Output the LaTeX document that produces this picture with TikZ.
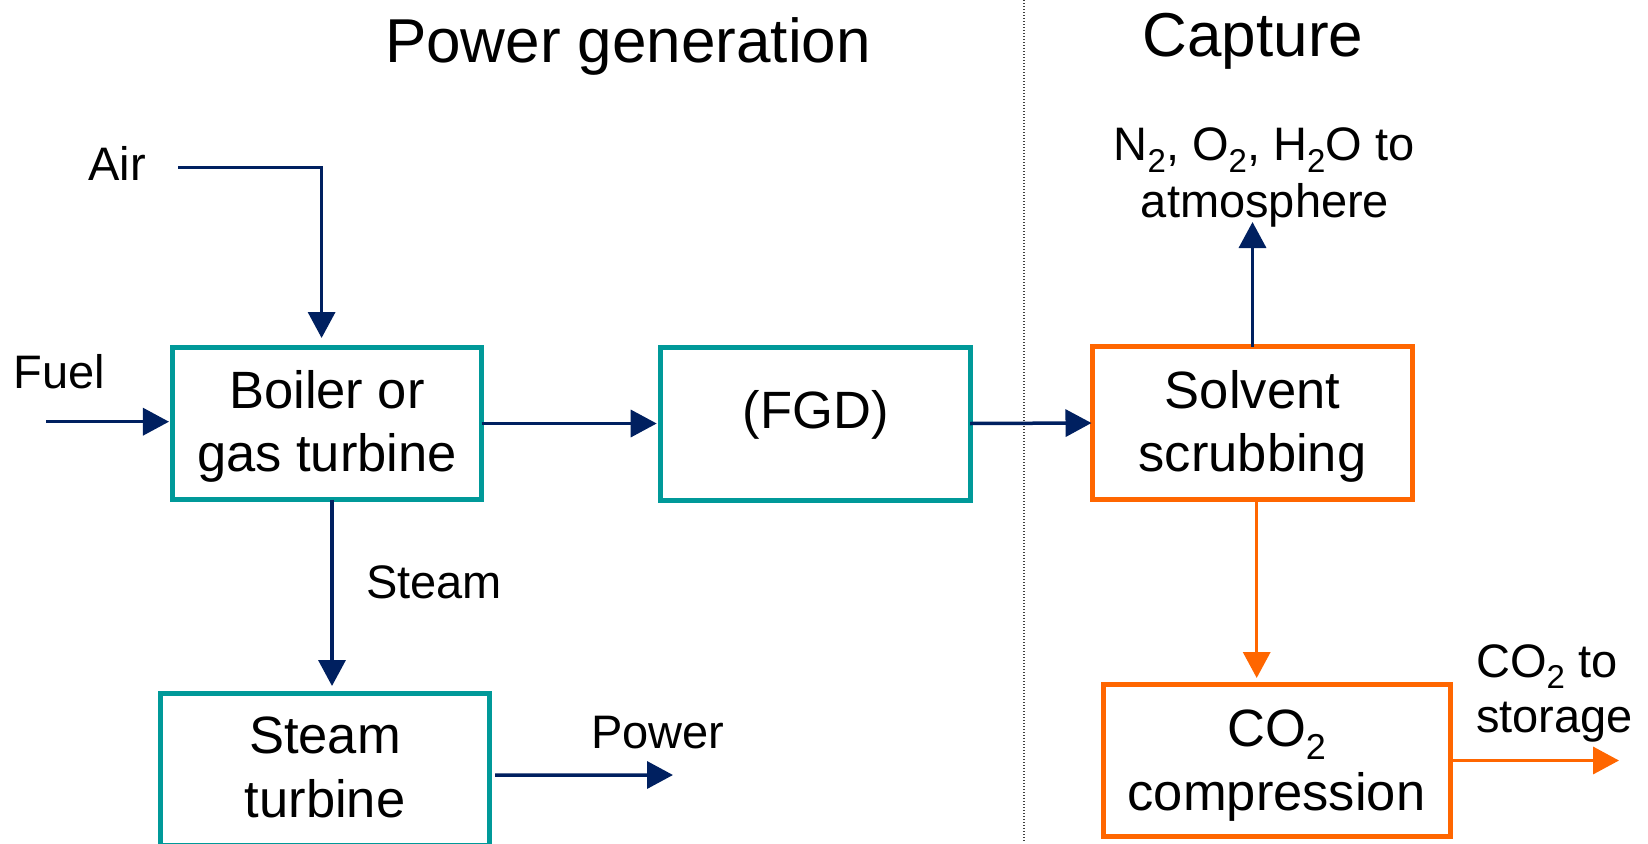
\documentclass[tikz,border=0pt]{standalone}
\usepackage{fontspec}
\setmainfont{Liberation Sans}
\usetikzlibrary{arrows.meta}
\definecolor{boxteal}{RGB}{0,153,153}
\definecolor{flownavy}{RGB}{0,32,96}
\definecolor{caporange}{RGB}{255,102,0}
% lowered, smaller digit for chemical formulae (size given as argument)
\newcommand\subtxt[2][33bp]{\raisebox{-0.25em}{\fontsize{#1}{#1}\selectfont #2}}
\tikzset{
  procbox/.style={draw=boxteal, line width=5bp, inner sep=0pt, outer sep=0pt},
  capbox/.style={draw=caporange, line width=5bp, inner sep=0pt, outer sep=0pt},
  boxtext/.style={font=\fontsize{52.5bp}{63bp}\selectfont, inner sep=0pt, anchor=base},
  lbl/.style={font=\fontsize{47bp}{56bp}\selectfont, inner sep=0pt, anchor=base},
  headtxt/.style={font=\fontsize{62bp}{74bp}\selectfont, inner sep=0pt, anchor=base},
  flow/.style={draw=flownavy, line width=3.5bp, -{Triangle[length=26bp,width=27bp]}},
  co2flow/.style={draw=caporange, line width=3.5bp, -{Triangle[length=26bp,width=27bp]}},
  divider/.style={draw=black!75, line width=1.4bp, dash pattern=on 1.4bp off 1.6bp}
}
\begin{document}
\begin{tikzpicture}[x=1bp,y=-1bp]
  \fill[white] (0,0) rectangle (1648,843);
  \useasboundingbox (0,0) rectangle (1648,843);

  % section headings and divider
  \node[headtxt] (hpow) at (628,62) {Power generation};
  \node[headtxt] (hcap) at (1253,56) {Capture};
  \coordinate (divtop) at (1024,0);
  \coordinate (divbot) at (1024,843);
  \draw[divider] (divtop) -- (divbot);

  % process units
  \node[procbox, minimum width=309.4bp, minimum height=152.4bp] (boiler) at (327,423.5) {};
  \node[procbox, minimum width=310bp, minimum height=153bp] (fgd) at (815,423.5) {};
  \node[procbox, minimum width=329bp, minimum height=152bp] (stturb) at (325,769) {};
  \node[capbox, minimum width=320bp, minimum height=153bp] (solvent) at (1252.5,423) {};
  \node[capbox, minimum width=347.5bp, minimum height=152bp] (comp) at (1276.75,760.5) {};

  % unit texts
  \node[boxtext] (boiler1) at (327,408) {Boiler or};
  \node[boxtext] (boiler2) at (327,471.7) {gas turbine};
  \node[boxtext] (fgdtxt) at (815.8,428) {(FGD)};
  \node[boxtext] (st1) at (325,753) {Steam};
  \node[boxtext] (st2) at (325,817) {turbine};
  \node[boxtext] (sol1) at (1252.5,408.3) {Solvent};
  \node[boxtext] (sol2) at (1252.5,471) {scrubbing};
  \node[boxtext] (comp1) at (1276.5,746) {CO\subtxt[36bp]{2}};
  \node[boxtext] (comp2) at (1276.5,810) {compression};

  % stream labels
  \node[lbl] (airtxt) at (117,180.7) {Air};
  \node[lbl] (fueltxt) at (59.5,388) {Fuel};
  \node[lbl] (steamtxt) at (434,598) {Steam};
  \node[lbl] (powtxt) at (658,748) {Power};
  \node[lbl] (vent1) at (1264,160.7) {N\subtxt{2}, O\subtxt{2}, H\subtxt{2}O to};
  \node[lbl] (vent2) at (1265,217) {atmosphere};
  \node[lbl, anchor=base west] (store1) at (1476,677) {CO\subtxt{2} to};
  \node[lbl, anchor=base west] (store2) at (1476,732) {storage};

  % free ends of streams
  \coordinate (airin) at (178,167.7);
  \coordinate (fuelin) at (46,421.7);
  \coordinate (ventout) at (1252.5,222);
  \coordinate (powout) at (673,775);
  \coordinate (storeout) at (1619,760.5);

  % power generation streams
  \draw[flow, shorten >=9.3bp] (airin) -| ([xshift=-5.4bp]boiler.north);
  \draw[flow, shorten >=3.3bp] (fuelin) -- (fuelin -| boiler.west);
  \draw[flow, shorten >=3.3bp] (boiler.east) -- (fgd.west);
  \draw[flow, shorten >=7bp] ([xshift=5bp]boiler.south) -- ([xshift=5bp]boiler.south |- stturb.north);
  \draw[flow, shorten <=5.5bp] ([yshift=-6bp]stturb.east) -- (powout);

  % capture streams
  \draw[flow, shorten >=1bp] (fgd.east) -- (solvent.west);
  \draw[flow] (solvent.north) -- (ventout);
  \draw[co2flow, shorten >=6.5bp] ([xshift=4.2bp]solvent.south) -- ([xshift=4.2bp]solvent.south |- comp.north);
  \draw[co2flow] (comp.east) -- (storeout);
\end{tikzpicture}
\end{document}
